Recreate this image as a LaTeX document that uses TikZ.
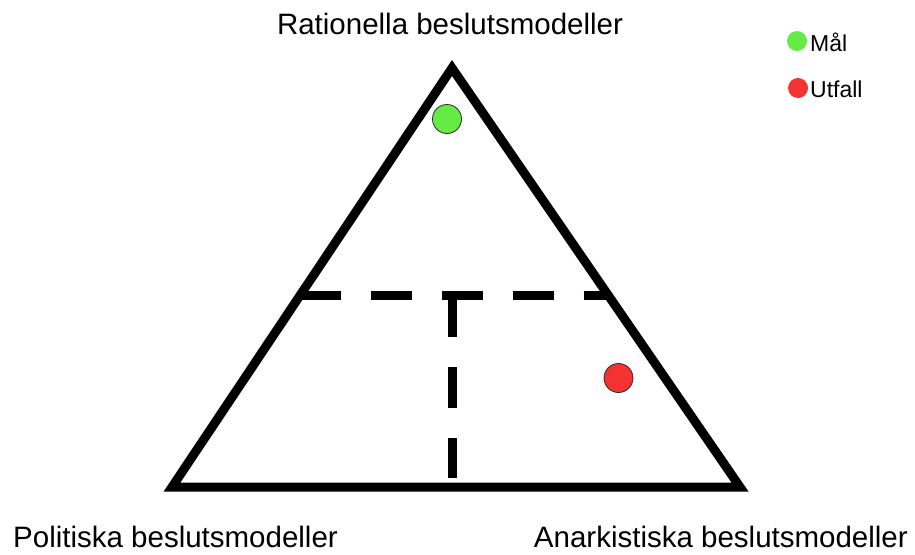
\documentclass[tikz,border=0pt]{standalone}
\usepackage{fontspec}
\setmainfont{Liberation Sans}
\usepackage{tikz}
\usetikzlibrary{calc,positioning}
\usepackage{xcolor}
\definecolor{goalgreen}{HTML}{66EA46}
\definecolor{outcomered}{HTML}{F43232}
\definecolor{rimgray}{HTML}{2A2A2A}

\begin{document}
\begin{tikzpicture}[x=1pt, y=-1pt,
  edge/.style={line width=9pt, line join=miter},
  split/.style={line width=9pt, dash pattern=on 41pt off 30pt},
  dot/.style={circle, draw=rimgray, line width=0.8pt, minimum size=29pt, inner sep=0pt},
  keydot/.style={circle, minimum size=20pt, inner sep=0pt},
  lbl/.style={font=\fontsize{29.5}{36}\selectfont, inner sep=0pt},
  key/.style={font=\fontsize{23}{28}\selectfont, inner sep=0pt, anchor=base west}]
  \useasboundingbox (0,0) rectangle (915,554);
  \coordinate (top) at (452,68);
  \coordinate (left) at (172,487);
  \coordinate (right) at (740,487);
  \draw[edge] (left) -- (top) -- (right) -- cycle;
  % dashed split inside the triangle
  \coordinate (hl) at ($(left)!0.456!(top)$);
  \coordinate (hr) at ($(right)!0.456!(top)$);
  \coordinate (vt) at (452,296);
  \coordinate (vb) at (452,478);
  \draw[split] (hl) -- (hr);
  \draw[split] (vt) -- (vb);
  \node[dot, fill=goalgreen] (goal) at (447,119) {};
  \node[dot, fill=outcomered] (outcome) at (618.5,378) {};
  % corner labels
  \node[lbl, anchor=base] (rational) at (450,34) {Rationella beslutsmodeller};
  \node[lbl, anchor=base west] (political) at (13,547) {Politiska beslutsmodeller};
  \node[lbl, anchor=base east] (anarchic) at (908,547) {Anarkistiska beslutsmodeller};
  % legend
  \node[keydot, fill=goalgreen] (goalkey) at (797,41) {};
  \node[key] (goaltxt) at (810,51) {Mål};
  \node[keydot, fill=outcomered] (outcomekey) at (798,88) {};
  \node[key] (outcometxt) at (810,97) {Utfall};
\end{tikzpicture}
\end{document}
